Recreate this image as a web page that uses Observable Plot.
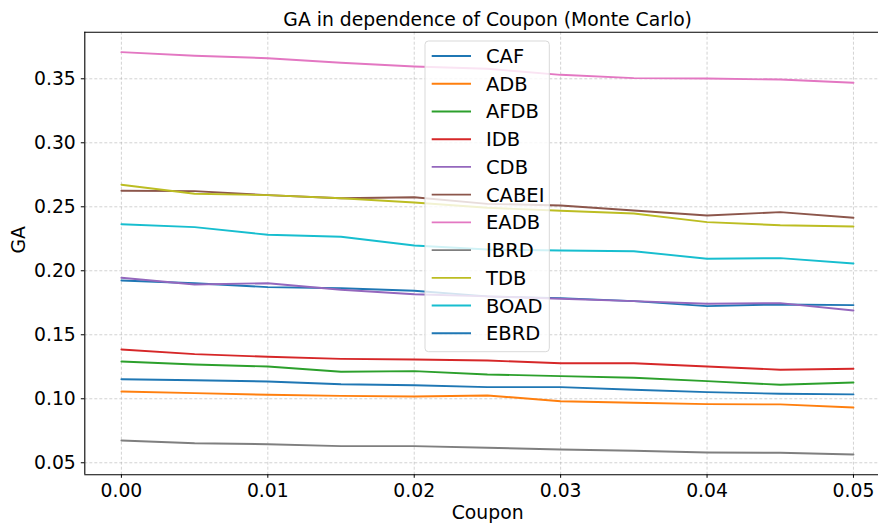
<!DOCTYPE html>
<html>
<head>
<meta charset="utf-8">
<script src="https://cdn.jsdelivr.net/npm/d3@7"></script>
<script src="https://cdn.jsdelivr.net/npm/@observablehq/plot@0.6"></script>
<style>
  html, body { margin: 0; padding: 0; background: #fff; }
  svg { display: block; }
</style>
</head>
<body>
<div id="chart"></div>
<script>
const coupon = [0.000, 0.005, 0.010, 0.015, 0.020, 0.025, 0.030, 0.035, 0.040, 0.045, 0.050];
const names = ["CAF", "ADB", "AFDB", "IDB", "CDB", "CABEI", "EADB", "IBRD", "TDB", "BOAD", "EBRD"];
const CAF   = [0.1924,0.1903,0.1872,0.1864,0.1844,0.1800,0.1786,0.1763,0.1724,0.1737,0.1732];
const ADB   = [0.1057,0.1044,0.1031,0.1023,0.1018,0.1026,0.0981,0.0969,0.0958,0.0956,0.0932];
const AFDB  = [0.1291,0.1268,0.1252,0.1211,0.1216,0.1190,0.1177,0.1164,0.1138,0.1109,0.1127];
const IDB   = [0.1385,0.1349,0.1328,0.1312,0.1307,0.1299,0.1278,0.1278,0.1252,0.1227,0.1234];
const CDB   = [0.1945,0.1893,0.1903,0.1852,0.1817,0.1800,0.1781,0.1763,0.1742,0.1747,0.1690];
const CABEI = [0.2625,0.2622,0.2591,0.2567,0.2575,0.2523,0.2510,0.2471,0.2432,0.2458,0.2414];
const EADB  = [0.3708,0.3680,0.3661,0.3625,0.3596,0.3578,0.3531,0.3505,0.3502,0.3494,0.3469];
const IBRD  = [0.0674,0.0653,0.0645,0.0630,0.0630,0.0617,0.0604,0.0594,0.0580,0.0578,0.0565];
const TDB   = [0.2672,0.2602,0.2591,0.2567,0.2534,0.2492,0.2469,0.2448,0.2380,0.2356,0.2346];
const BOAD  = [0.2364,0.2341,0.2281,0.2266,0.2198,0.2166,0.2159,0.2153,0.2094,0.2099,0.2057];
const EBRD  = [0.1153,0.1145,0.1135,0.1114,0.1106,0.1091,0.1091,0.1070,0.1052,0.1039,0.1034];
const seriesValues = [CAF, ADB, AFDB, IDB, CDB, CABEI, EADB, IBRD, TDB, BOAD, EBRD];
const colors = ["#1f77b4","#ff7f0e","#2ca02c","#d62728","#9467bd","#8c564b","#e377c2","#7f7f7f","#bcbd22","#17becf","#1f77b4"];
const xTicks = [0.00, 0.01, 0.02, 0.03, 0.04, 0.05];
const yTicks = [0.05, 0.10, 0.15, 0.20, 0.25, 0.30, 0.35];
const title = "GA in dependence of Coupon (Monte Carlo)";
const xLabel = "Coupon";
const yLabel = "GA";

const rows = [];
names.forEach((n, i) => coupon.forEach((c, j) => rows.push({name: n, coupon: c, ga: seriesValues[i][j]})));

const xDomain = [-0.0025, 0.05171];
const yDomain = [0.0406, 0.3864];
const font = "DejaVu Sans, sans-serif";
const fs = 18.8;

const svg = Plot.plot({
  width: 878,
  height: 524,
  marginLeft: 84.3,
  marginRight: 0,
  marginTop: 31.7,
  marginBottom: 49.7,
  style: {fontFamily: font, fontSize: fs + "px", color: "#000", background: "#fff", overflow: "visible"},
  x: {domain: xDomain, label: null},
  y: {domain: yDomain, label: null},
  color: {domain: names, range: colors},
  marks: [
    Plot.gridX(xTicks, {stroke: "#b0b0b0", strokeOpacity: 0.7, strokeDasharray: "3,2", strokeWidth: 0.8}),
    Plot.gridY(yTicks, {stroke: "#b0b0b0", strokeOpacity: 0.7, strokeDasharray: "3,2", strokeWidth: 0.8}),
    Plot.line(rows, {x: "coupon", y: "ga", z: "name", stroke: "name", strokeWidth: 1.9}),
    Plot.axisX(xTicks, {tickFormat: d3.format(".2f"), tickSize: 3.5, tickPadding: 5, fontSize: fs, label: null}),
    Plot.axisY(yTicks, {tickFormat: d3.format(".2f"), tickSize: 3.5, tickPadding: 5.5, fontSize: fs, label: null}),
    Plot.ruleX([xDomain[0]], {stroke: "#000", strokeWidth: 1.1}),
    Plot.ruleY([yDomain[0]], {stroke: "#000", strokeWidth: 1.1}),
    Plot.ruleY([yDomain[1]], {stroke: "#000", strokeWidth: 1.1}),
    Plot.text([title], {frameAnchor: "top", dx: 6, dy: -20, fontSize: fs, fill: "#000"}),
    Plot.text([xLabel], {frameAnchor: "bottom", dx: 6, dy: 44, fontSize: fs, fill: "#000"}),
    Plot.text([yLabel], {frameAnchor: "left", dx: -66, rotate: -90, fontSize: fs, fill: "#000"})
  ]
});

// Legend (matplotlib style box)
const lg = d3.select(svg).append("g")
  .attr("font-family", font).attr("font-size", 19.5).attr("text-anchor", "start");
lg.append("rect")
  .attr("x", 425).attr("y", 41).attr("width", 124.3).attr("height", 310.7)
  .attr("rx", 3.5).attr("fill", "#fff").attr("fill-opacity", 0.8)
  .attr("stroke", "#d9d9d9").attr("stroke-width", 1);
names.forEach((n, i) => {
  const y = 56 + i * 27.73;
  lg.append("line").attr("x1", 431.7).attr("x2", 471).attr("y1", y).attr("y2", y)
    .attr("stroke", colors[i]).attr("stroke-width", 1.9);
  lg.append("text").attr("x", 486).attr("y", y).attr("dy", "0.36em")
    .attr("text-anchor", "start").attr("fill", "#000").text(n);
});

document.getElementById("chart").appendChild(svg);
</script>
</body>
</html>
